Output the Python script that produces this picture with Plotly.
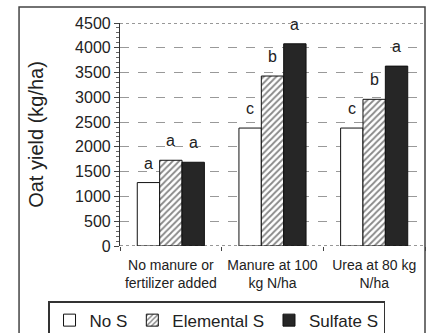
import plotly.graph_objects as go

categories = ["No manure or<br>fertilizer added", "Manure at 100<br>kg N/ha", "Urea at 80 kg<br>N/ha"]
series_names = ["No S", "Elemental S", "Sulfate S"]
no_s = [1280, 2380, 2380]
elemental_s = [1730, 3430, 2960]
sulfate_s = [1690, 4080, 3630]
letters_no_s = ["a", "c", "c"]
letters_elemental = ["a", "b", "b"]
letters_sulfate = ["a", "a", "a"]
y_ticks = [0, 500, 1000, 1500, 2000, 2500, 3000, 3500, 4000, 4500]

FONT = "Liberation Sans, Arial, sans-serif"
TXT = "#222222"
x = [0, 1, 2]
bargap = 0.34
bw = (1 - bargap) / 3

fig = go.Figure()
fig.add_trace(go.Bar(name=series_names[0], x=x, y=no_s,
                     marker=dict(color="white", line=dict(color="#111", width=1))))
fig.add_trace(go.Bar(name=series_names[1], x=x, y=elemental_s,
                     marker=dict(color="white", line=dict(color="#111", width=1),
                                 pattern=dict(shape="/", fgcolor="#111", bgcolor="white",
                                              size=4.5, solidity=0.4))))
fig.add_trace(go.Bar(name=series_names[2], x=x, y=sulfate_s,
                     marker=dict(color="#262626", line=dict(color="#111", width=1))))

for j, (vals, labs) in enumerate([(no_s, letters_no_s), (elemental_s, letters_elemental),
                                   (sulfate_s, letters_sulfate)]):
    for i in range(3):
        fig.add_annotation(x=x[i] + (j - 1) * bw, y=vals[i], text=labs[i], showarrow=False,
                           yanchor="bottom", yshift=9, font=dict(size=16, color=TXT, family=FONT))

# plot area top & bottom dotted lines
for yv in (0, 4500):
    fig.add_shape(type="line", xref="paper", yref="y", x0=0, x1=1, y0=yv, y1=yv,
                  line=dict(color="#333", width=1.2, dash="dot"))
# outer frame
fig.add_shape(type="rect", xref="paper", yref="paper", x0=-0.331, x1=1.0, y0=-0.45, y1=1.0717,
              line=dict(color="#444", width=1.5), layer="above")

fig.update_layout(
    width=432, height=333,
    margin=dict(l=120, r=7, t=23, b=87, autoexpand=False),
    paper_bgcolor="white", plot_bgcolor="white",
    barmode="group", bargap=bargap, bargroupgap=0,
    font=dict(family=FONT, color=TXT),
    showlegend=True,
    legend=dict(orientation="h", x=-0.236, y=-0.247, xanchor="left", yanchor="top",
                bordercolor="#333", borderwidth=1.5, font=dict(size=17, color=TXT, family=FONT),
                traceorder="normal", itemwidth=30),
    xaxis=dict(range=[-0.5, 2.5], tickvals=x, ticktext=categories, ticks="",
               tickfont=dict(size=14, color=TXT, family=FONT), ticklabelstandoff=9,
               showline=False, showgrid=False, zeroline=False,
               minor=dict(tick0=-0.5, dtick=1, ticks="outside", ticklen=4, tickcolor="#444")),
    yaxis=dict(range=[0, 4500], tickvals=y_ticks, ticks="outside", ticklen=5, tickcolor="#444",
               tickfont=dict(size=16, color=TXT, family=FONT),
               showline=True, linecolor="#333", linewidth=1.2,
               showgrid=True, gridcolor="#999", griddash="dash", gridwidth=1, zeroline=False,
               minor=dict(dtick=100, ticks="outside", ticklen=3, tickcolor="#666", showgrid=False),
               title=dict(text="Oat yield (kg/ha)", font=dict(size=20, color=TXT, family=FONT),
                          standoff=26)),
)

fig.write_html("out.html")
